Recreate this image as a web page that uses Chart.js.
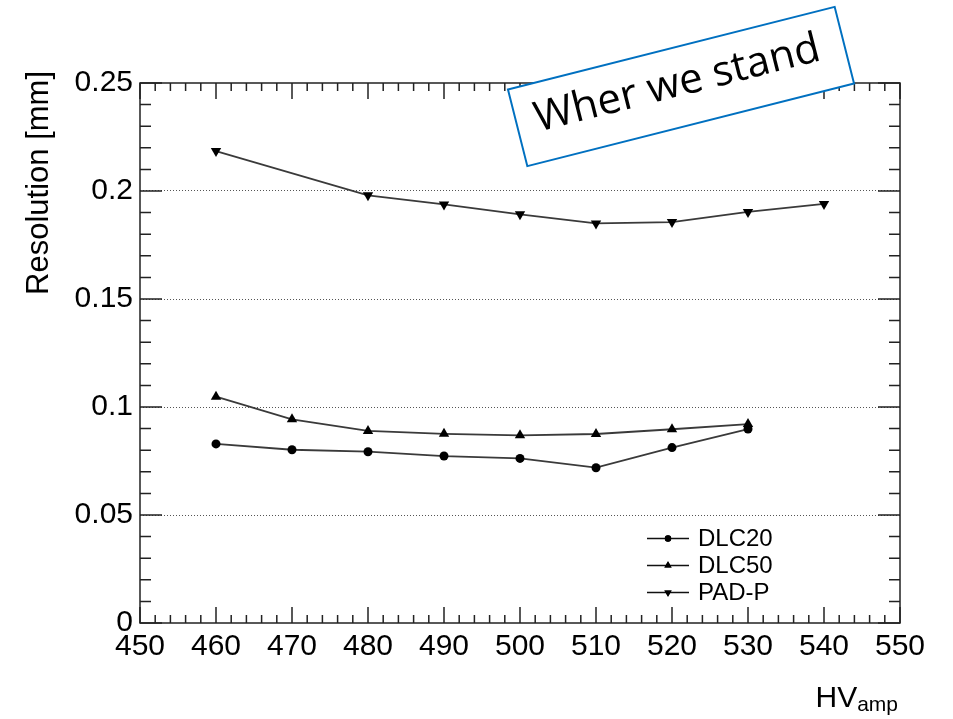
<!DOCTYPE html>
<html>
<head>
<meta charset="utf-8">
<script src="https://cdn.jsdelivr.net/npm/chart.js@4/dist/chart.umd.min.js"></script>
<style>
  body { margin: 0; background: #fff; }
  #wrap { width: 953px; height: 719px; position: relative; }
</style>
</head>
<body>
<div id="wrap"><canvas id="chart"></canvas></div>
<script>
// HV_amp settings for each series (PAD-P has no 470 point)
const hvDlc = [460, 470, 480, 490, 500, 510, 520, 530];
const hvPad = [460, 480, 490, 500, 510, 520, 530, 540];

// resolution in mm
const dlc20 = [0.0829, 0.0802, 0.0793, 0.0773, 0.0762, 0.0719, 0.0812, 0.0898];
const dlc50 = [0.1048, 0.0943, 0.0889, 0.0876, 0.0869, 0.0875, 0.0897, 0.0921];
const padP  = [0.2185, 0.1980, 0.1938, 0.1892, 0.1850, 0.1856, 0.1903, 0.1940];

const seriesNames = ['DLC20', 'DLC50', 'PAD-P'];

const xTicks = [450, 460, 470, 480, 490, 500, 510, 520, 530, 540, 550];
const yTicks = [0, 0.05, 0.1, 0.15, 0.2, 0.25];
const yTickLabels = ['0', '0.05', '0.1', '0.15', '0.2', '0.25'];

const FONT = '"Liberation Sans", Arial, Helvetica, sans-serif';
const LINE = '#3a3a3a';

function pts(xs, ys) {
    return ys.map((y, i) => ({ x: xs[i], y: y }))
}

// frame + ROOT style inward ticks on all four sides
const frameTicks = {
    id: 'frameTicks',
    afterDatasetsDraw(chart) {
        const ctx = chart.ctx
        const a = chart.chartArea
        const xs = chart.scales.x
        const ys = chart.scales.y
        ctx.save()
        ctx.strokeStyle = '#222'
        ctx.lineWidth = 1.5
        ctx.strokeRect(a.left, a.top, a.right - a.left, a.bottom - a.top)

        ctx.beginPath()
        for (let v = xs.min; v <= xs.max + 0.001; v += 2) {
            let px = xs.getPixelForValue(v)
            let major = Math.abs(v % 10) < 0.001
            let len = major ? 16 : 8
            ctx.moveTo(px, a.bottom); ctx.lineTo(px, a.bottom - len)
            ctx.moveTo(px, a.top); ctx.lineTo(px, a.top + len)
        }
        for (let i = 0; i <= 25; i++) {
            let v = i * 0.01
            let py = ys.getPixelForValue(v)
            let len = (i % 5 == 0) ? 22 : 11
            ctx.moveTo(a.left, py); ctx.lineTo(a.left + len, py)
            ctx.moveTo(a.right, py); ctx.lineTo(a.right - len, py)
        }
        ctx.stroke()
        ctx.restore()
    },
    afterDraw(chart) {
        const ctx = chart.ctx
        ctx.save()
        ctx.fillStyle = '#000'

        // y title
        ctx.save()
        ctx.translate(39, 71)
        ctx.rotate(-Math.PI / 2)
        ctx.font = '31px ' + FONT
        ctx.textAlign = 'right'
        ctx.textBaseline = 'middle'
        ctx.fillText('Resolution [mm]', 0, 0)
        ctx.restore()

        // x title with subscript
        ctx.font = '21px ' + FONT
        let ampW = ctx.measureText('amp').width
        ctx.textBaseline = 'alphabetic'
        ctx.textAlign = 'left'
        ctx.fillText('amp', 898 - ampW, 711)
        ctx.font = '30px ' + FONT
        let hvW = ctx.measureText('HV').width
        ctx.fillText('HV', 898 - ampW - hvW, 707)

        // legend
        const rows = [538.5, 565.5, 592.5]
        chart.data.datasets.forEach((ds, i) => {
            let y = rows[i]
            ctx.strokeStyle = '#111'
            ctx.lineWidth = 1.5
            ctx.beginPath()
            ctx.moveTo(647, y); ctx.lineTo(689, y)
            ctx.stroke()
            Chart.helpers.drawPoint(ctx, {
                pointStyle: ds.pointStyle,
                radius: ds.pointStyle == 'circle' ? 3.2 : 4.2,
                rotation: ds.pointRotation || 0,
                borderWidth: 0
            }, 668, y)
            ctx.fillStyle = '#000'
            ctx.fill()
            ctx.font = '24px ' + FONT
            ctx.textBaseline = 'middle'
            ctx.fillText(ds.label, 698, y + 1)
        })

        // annotation box
        ctx.save()
        ctx.translate(681, 86.5)
        ctx.rotate(-14.2 * Math.PI / 180)
        ctx.fillStyle = '#fff'
        ctx.fillRect(-168.5, -39.5, 337, 79)
        ctx.strokeStyle = '#0070C0'
        ctx.lineWidth = 2
        ctx.strokeRect(-168.5, -39.5, 337, 79)
        ctx.fillStyle = '#000'
        ctx.font = '42px "Open Sans", "Noto Sans", sans-serif'
        ctx.textAlign = 'center'
        ctx.textBaseline = 'middle'
        ctx.fillText('Wher we stand', -3, -3)
        ctx.restore()

        ctx.restore()
    }
}

const ds = (label, data, style, rot, r) => ({
    label: label,
    data: data,
    borderColor: LINE,
    borderWidth: 1.8,
    pointStyle: style,
    pointRotation: rot,
    pointRadius: r,
    pointBackgroundColor: '#000',
    pointBorderColor: '#000',
    pointBorderWidth: 0,
    tension: 0
})

new Chart(document.getElementById('chart'), {
    type: 'line',
    data: {
        datasets: [
            ds(seriesNames[0], pts(hvDlc, dlc20), 'circle', 0, 4.5),
            ds(seriesNames[1], pts(hvDlc, dlc50), 'triangle', 0, 6),
            ds(seriesNames[2], pts(hvPad, padP), 'triangle', 180, 6)
        ]
    },
    options: {
        responsive: true,
        maintainAspectRatio: false,
        animation: false,
        layout: { padding: { left: 0, right: 53, top: 83, bottom: 0 } },
        plugins: { legend: { display: false }, tooltip: { enabled: false } },
        scales: {
            x: {
                type: 'linear',
                min: 450,
                max: 550,
                afterBuildTicks: s => { s.ticks = xTicks.map(v => ({ value: v })) },
                afterFit: s => { s.height = 96 },
                grid: { display: false, drawTicks: false },
                border: { display: false },
                ticks: {
                    color: '#000',
                    font: { family: FONT, size: 30 },
                    padding: 6,
                    maxRotation: 0,
                    autoSkip: false
                }
            },
            y: {
                min: 0,
                max: 0.25,
                afterBuildTicks: s => { s.ticks = yTicks.map(v => ({ value: v })) },
                afterFit: s => { s.width = 140 },
                grid: {
                    drawTicks: false,
                    lineWidth: 1,
                    color: c => (c.tick && c.tick.value > 0 && c.tick.value < 0.25) ? '#555' : 'rgba(0,0,0,0)'
                },
                border: { display: false, dash: [1, 2] },
                ticks: {
                    color: '#000',
                    font: { family: FONT, size: 30 },
                    padding: 7,
                    autoSkip: false,
                    callback: (v, i) => yTickLabels[i]
                }
            }
        }
    },
    plugins: [frameTicks]
})
</script>
</body>
</html>
